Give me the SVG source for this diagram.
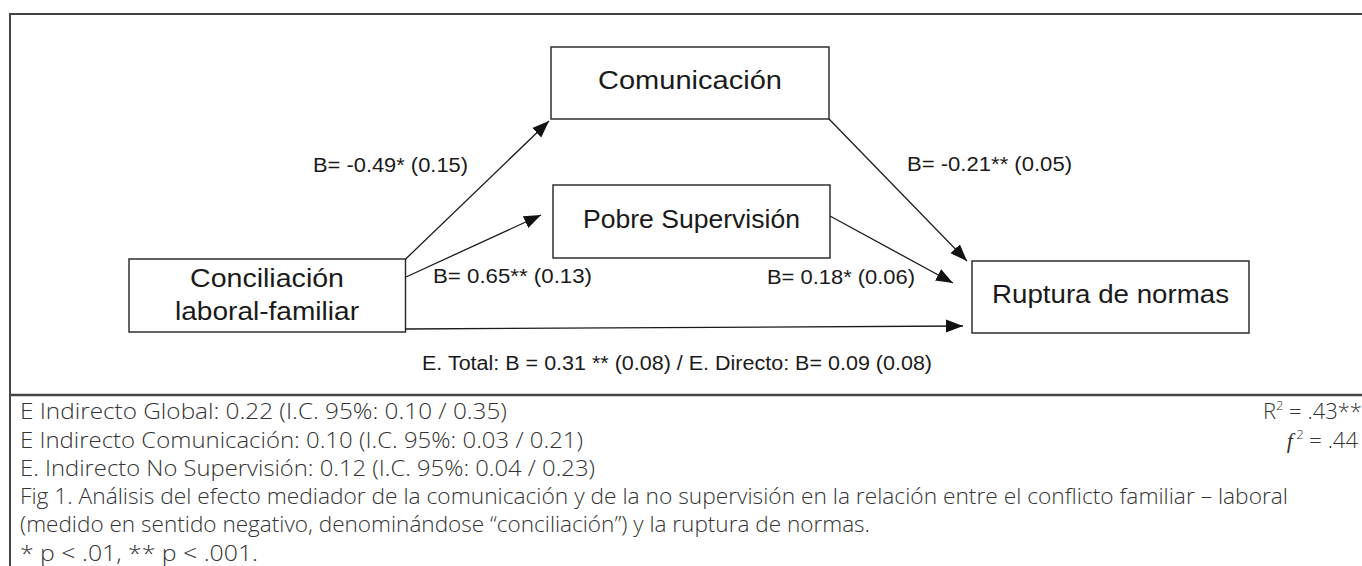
<svg xmlns="http://www.w3.org/2000/svg" width="1362" height="566" viewBox="0 0 1362 566">
<style>
.box{fill:#fff;stroke:#222;stroke-width:1.4}
.node{font-family:"Liberation Sans",Arial,sans-serif;font-size:25px;fill:#1a1a1a;text-anchor:middle}
.lbl{font-family:"Liberation Sans",Arial,sans-serif;font-size:20px;fill:#1a1a1a}
.note{font-family:"Open Sans","Liberation Sans",sans-serif;font-weight:300;font-size:22px;fill:#333}
.edge{stroke:#1a1a1a;stroke-width:1.3;fill:none;marker-end:url(#ah)}
.frame{stroke:#444;fill:none}
</style>
<defs>
<marker id="ah" markerUnits="userSpaceOnUse" markerWidth="18" markerHeight="14" refX="17" refY="6.5" orient="auto" viewBox="0 0 18 13">
<path d="M0,0 L17,6.5 L0,13 Z" fill="#111"/>
</marker>
</defs>
<rect width="1362" height="566" fill="#fff"/>
<g id="frame">
<line class="frame" x1="9" y1="14" x2="1362" y2="14" stroke-width="2" stroke="#555"/>
<line class="frame" x1="10" y1="13" x2="10" y2="566" stroke-width="2"/>
<line class="frame" x1="9" y1="395" x2="1362" y2="395" stroke-width="2.5" stroke="#222"/>
</g>
<g id="connectors">
<line class="edge" x1="405.7" y1="259" x2="549" y2="121"/>
<line class="edge" x1="406" y1="277" x2="541" y2="215"/>
<line class="edge" x1="829" y1="119" x2="967" y2="261"/>
<line class="edge" x1="830" y1="216" x2="953" y2="283"/>
<line class="edge" x1="405" y1="329" x2="963" y2="326"/>
</g>
<g id="n-comunicacion">
<rect class="box" x="551" y="47" width="278" height="72"/>
<text class="node" x="690" y="89" textLength="184" lengthAdjust="spacingAndGlyphs">Comunicación</text>
</g>
<g id="n-supervision">
<rect class="box" x="553" y="185" width="277" height="73"/>
<text class="node" x="691.5" y="228" textLength="217" lengthAdjust="spacingAndGlyphs">Pobre Supervisión</text>
</g>
<g id="n-conciliacion">
<rect class="box" x="129" y="259" width="276.5" height="73"/>
<text class="node" x="267" y="287" textLength="154" lengthAdjust="spacingAndGlyphs">Conciliación</text>
<text class="node" x="267" y="320" textLength="184" lengthAdjust="spacingAndGlyphs">laboral-familiar</text>
</g>
<g id="n-ruptura">
<rect class="box" x="972" y="261" width="277" height="72"/>
<text class="node" x="1110.5" y="303" textLength="237" lengthAdjust="spacingAndGlyphs">Ruptura de normas</text>
</g>
<g id="labels">
<text class="lbl" x="313" y="172" textLength="155" lengthAdjust="spacingAndGlyphs">B= -0.49* (0.15)</text>
<text class="lbl" x="433" y="283" textLength="159" lengthAdjust="spacingAndGlyphs">B= 0.65** (0.13)</text>
<text class="lbl" x="907" y="171" textLength="165" lengthAdjust="spacingAndGlyphs">B= -0.21** (0.05)</text>
<text class="lbl" x="767" y="284" textLength="148" lengthAdjust="spacingAndGlyphs">B= 0.18* (0.06)</text>
<text class="lbl" x="422" y="370" textLength="510" lengthAdjust="spacingAndGlyphs">E. Total: B = 0.31 ** (0.08) / E. Directo: B= 0.09 (0.08)</text>
</g>
<g id="notes">
<text class="note" x="20" y="419" textLength="487" lengthAdjust="spacingAndGlyphs">E Indirecto Global: 0.22 (I.C. 95%: 0.10 / 0.35)</text>
<text class="note" x="20" y="448" textLength="563" lengthAdjust="spacingAndGlyphs">E Indirecto Comunicación: 0.10 (I.C. 95%: 0.03 / 0.21)</text>
<text class="note" x="20" y="476" textLength="575" lengthAdjust="spacingAndGlyphs">E. Indirecto No Supervisión: 0.12 (I.C. 95%: 0.04 / 0.23)</text>
<text class="note" x="20" y="504" textLength="1268" lengthAdjust="spacingAndGlyphs">Fig 1. Análisis del efecto mediador de la comunicación y de la no supervisión en la relación entre el conflicto familiar – laboral</text>
<text class="note" x="20" y="532" textLength="850" lengthAdjust="spacingAndGlyphs">(medido en sentido negativo, denominándose “conciliación”) y la ruptura de normas.</text>
<text class="note" x="20" y="561" textLength="238" lengthAdjust="spacingAndGlyphs">* p &lt; .01, ** p &lt; .001.</text>
<text class="note" x="1362" y="419" text-anchor="end">R<tspan font-size="13" dy="-9">2</tspan><tspan dy="9"> = .43**</tspan></text>
<text class="note" x="1358" y="448" text-anchor="end"><tspan font-family="Liberation Serif,serif" font-style="italic">f</tspan><tspan font-size="13" dy="-9"> 2</tspan><tspan dy="9"> = .44</tspan></text>
</g>
</svg>
